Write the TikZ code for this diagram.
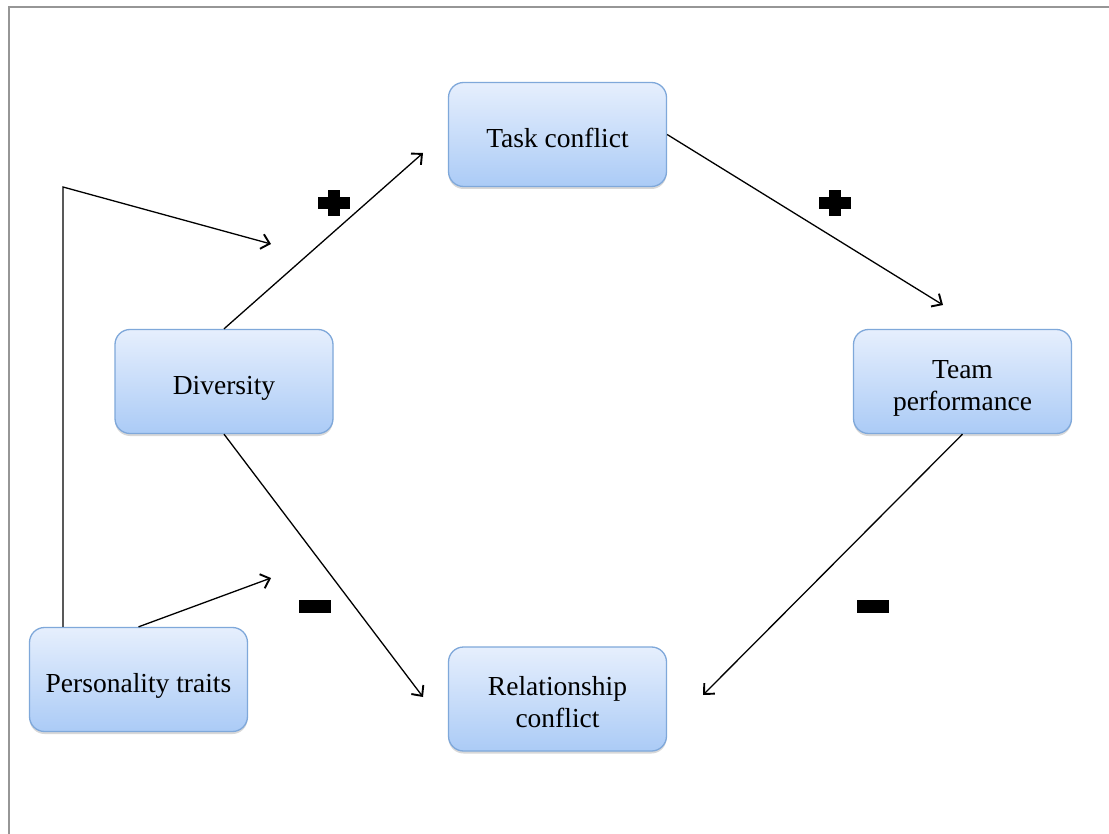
\documentclass[tikz,border=0pt]{standalone}
\usepackage{fontspec}
\setmainfont{Liberation Serif}
\usetikzlibrary{arrows.meta,shadows,calc}
\definecolor{boxtop}{HTML}{E6EFFD}
\definecolor{boxbot}{HTML}{ABCBF6}
\definecolor{boxline}{HTML}{7FA8DA}
\definecolor{framegray}{HTML}{969696}
\newcommand{\boxtext}[1]{\raisebox{0pt}[\dimexpr\height+13pt\relax][\depth]{\begin{tabular}{@{}c@{}}#1\end{tabular}}}
\tikzset{
  factor/.style={draw=boxline, line width=1.3pt, rounded corners=15pt,
    top color=boxtop, bottom color=boxbot,
    minimum width=218pt, minimum height=104pt,
    font=\fontsize{27.5}{32}\selectfont,
    drop shadow={shadow xshift=0pt, shadow yshift=-2.5pt, opacity=0.25, fill=black!60}},
  link/.style={line width=1.3pt, -{Straight Barb[length=8pt,width=15pt,line width=1.9pt]}},
  signmark/.style={fill=black, draw=none}
}
\begin{document}
\begin{tikzpicture}[x=1pt,y=-1pt]
\useasboundingbox (0,0) rectangle (1109,834);
\fill[white] (0,0) rectangle (1109,834);
% frame
\draw[framegray, line width=2pt] (9,834) -- (9,7.5) -- (1109,7.5);

% nodes
\node[factor] (task) at (557.5,134.5) {\boxtext{Task conflict}};
\node[factor] (div) at (224,381.5) {\boxtext{Diversity}};
\node[factor] (team) at (962.5,381.5) {\boxtext{Team\\[0pt]performance}};
\node[factor] (pers) at (138.5,679.5) {\boxtext{Personality traits}};
\node[factor] (rel) at (557.5,699) {\boxtext{Relationship\\[0pt]conflict}};

% free ends
\coordinate (e1) at (423,153);
\coordinate (e2) at (943,305);
\coordinate (e3) at (703,695);
\coordinate (e4) at (423,697);
\coordinate (k1) at (63,187);
\coordinate (m1) at (271,244);
\coordinate (m2) at (271,578);

% connectors
\draw[link] (div.north) -- (e1);
\draw[link] (task.east) -- (e2);
\draw[link] (team.south) -- (e3);
\draw[link] (div.south) -- (e4);
\draw[link] (k1 |- pers.north) -- (k1) -- (m1);
\draw[link] (pers.north) -- (m2);

% signs
\coordinate (p1) at (334,203);
\coordinate (p2) at (835,203);
\coordinate (n1) at (314.5,606);
\coordinate (n2) at (873,606);
\foreach \p in {p1,p2}{
  \fill[signmark] ($(\p)+(-16,-6)$) rectangle ($(\p)+(16,6)$);
  \fill[signmark] ($(\p)+(-6,-13)$) rectangle ($(\p)+(6,13)$);
}
\foreach \n in {n1,n2}{
  \fill[signmark] ($(\n)+(-16,-6.5)$) rectangle ($(\n)+(16,6.5)$);
}
\end{tikzpicture}
\end{document}
